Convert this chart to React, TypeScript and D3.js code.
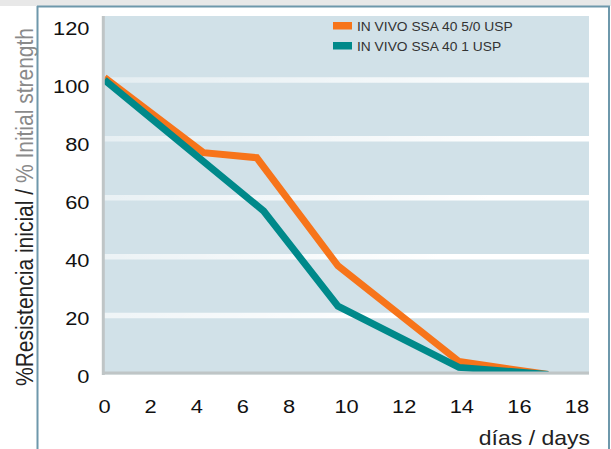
import * as d3 from 'd3';
import { useEffect, useRef } from 'react';

const seriesNames = ['IN VIVO SSA 40 5/0 USP', 'IN VIVO SSA 40 1 USP'];
const seriesColors = ['#f7741a', '#00898a'];

// days / % initial strength
const sutureDays = [0, 4.3, 6.6, 9.7, 13.9, 17];
const sutureStrength = [100.8, 75.3, 73.6, 36.9, 4.4, 0];
const usp1Days = [0, 6.9, 9.7, 13.9, 17];
const usp1Strength = [100, 55.5, 23.2, 2.4, 0];

const xTicks = [0, 2, 4, 6, 8, 10, 12, 14, 16, 18];
const yTicks = [0, 20, 40, 60, 80, 100, 120];

const W = 611;
const H = 449;
const FONT = '"Liberation Sans", Arial, sans-serif';
// the source artwork is stretched sideways, text included
const STRETCH = 1.15;

export default function App() {
  const svgRef = useRef<SVGSVGElement>(null);

  useEffect(() => {
    if (!svgRef.current) return;
    const svg = d3.select(svgRef.current);
    svg.selectAll('*').remove();

    const plot = { left: 103, right: 589, top: 16, bottom: 374.5 };

    // x axis of the original is uneven: 0-8 is tighter than 8-18
    const x = d3.scaleLinear().domain([0, 8, 18]).range([104.5, 289, 577]);
    const y = d3.scaleLinear().domain([0, 120]).range([plot.bottom, 21]);

    const defs = svg.append('defs');
    const grad = defs.append('linearGradient')
      .attr('id', 'gridFade')
      .attr('gradientUnits', 'userSpaceOnUse')
      .attr('x1', plot.left).attr('y1', plot.top)
      .attr('x2', 420).attr('y2', 280);
    grad.append('stop').attr('offset', 0).attr('stop-color', '#fff').attr('stop-opacity', 0.35);
    grad.append('stop').attr('offset', 1).attr('stop-color', '#fff').attr('stop-opacity', 1);

    defs.append('clipPath').attr('id', 'plotClip')
      .append('rect')
      .attr('x', plot.left).attr('y', plot.top)
      .attr('width', plot.right - plot.left)
      .attr('height', y(0) - 1.5 - plot.top);

    // frame
    svg.append('rect').attr('x', 0).attr('y', 0).attr('width', W).attr('height', 6).attr('fill', '#e8e8e8');

    // plot background
    svg.append('rect')
      .attr('x', plot.left).attr('y', plot.top)
      .attr('width', plot.right - plot.left)
      .attr('height', plot.bottom - plot.top)
      .attr('fill', '#d1e1e8');

    // grid
    svg.append('g')
      .selectAll('line')
      .data(yTicks.filter(v => v > 0 && v < 120))
      .join('line')
      .attr('x1', plot.left).attr('x2', plot.right)
      .attr('y1', d => y(d)).attr('y2', d => y(d))
      .attr('stroke', 'url(#gridFade)')
      .attr('stroke-width', 5.5);

    // series
    const line = d3.line<[number, number]>().x(d => x(d[0])).y(d => y(d[1]));
    const series: [number, number][][] = [
      sutureDays.map((d, i) => [d, sutureStrength[i]]),
      usp1Days.map((d, i) => [d, usp1Strength[i]]),
    ];
    svg.append('g')
      .attr('clip-path', 'url(#plotClip)')
      .selectAll('path')
      .data(series)
      .join('path')
      .attr('d', d => line(d))
      .attr('fill', 'none')
      .attr('stroke', (_, i) => seriesColors[i])
      .attr('stroke-width', 7)
      .attr('stroke-linejoin', 'miter')
      .attr('stroke-linecap', 'butt');

    // axis lines
    svg.append('line')
      .attr('x1', plot.left + 0.3).attr('x2', plot.left + 0.3)
      .attr('y1', plot.top).attr('y2', plot.bottom + 0.5)
      .attr('stroke', '#bfc5c6').attr('stroke-width', 3);
    svg.append('line')
      .attr('x1', plot.left).attr('x2', plot.right)
      .attr('y1', y(0) - 1.5).attr('y2', y(0) - 1.5)
      .attr('stroke', '#bfc5c6').attr('stroke-width', 2.8);

    const stretched = (sel: d3.Selection<SVGTextElement, any, any, any>, tx: (d: any) => number, ty: (d: any) => number) =>
      sel.attr('transform', d => `translate(${tx(d)},${ty(d)}) scale(${STRETCH},1)`);

    // y tick labels (they sit a little below their gridlines in the source)
    const yLabel = (v: number) => y(v) + 8 + (v / 120) * 6;
    svg.append('g')
      .selectAll('text')
      .data(yTicks)
      .join('text')
      .call(stretched, () => 89.5, d => yLabel(d))
      .attr('text-anchor', 'end')
      .style('font-family', FONT)
      .style('font-size', '19px')
      .style('fill', '#111')
      .text(d => String(d));

    // x tick labels
    svg.append('g')
      .selectAll('text')
      .data(xTicks)
      .join('text')
      .call(stretched, d => x(d), () => 413)
      .attr('text-anchor', 'middle')
      .style('font-family', FONT)
      .style('font-size', '19px')
      .style('fill', '#111')
      .text(d => String(d));

    // x title
    svg.append('text')
      .attr('transform', `translate(590,445) scale(${STRETCH},1)`)
      .attr('text-anchor', 'end')
      .style('font-family', FONT)
      .style('font-size', '20px')
      .style('fill', '#222')
      .text('días / days');

    // y title, two tones
    const yt = svg.append('text')
      .attr('transform', `translate(32.5,207) scale(${STRETCH},1) rotate(-90)`)
      .attr('text-anchor', 'middle')
      .style('font-family', FONT)
      .style('font-size', '21px');
    yt.append('tspan').style('fill', '#222').text('%Resistencia inicial / ');
    yt.append('tspan').style('fill', '#8a8a8a').text('% Initial strength');

    // legend
    const legend = svg.append('g')
      .selectAll('g')
      .data(seriesNames)
      .join('g')
      .attr('transform', (_, i) => `translate(333,${22 + i * 20})`);
    legend.append('rect')
      .attr('width', 19).attr('height', 7.5)
      .attr('fill', (_, i) => seriesColors[i]);
    legend.append('text')
      .attr('transform', `translate(24,8.7) scale(${STRETCH},1)`)
      .style('font-family', FONT)
      .style('font-size', '12px')
      .style('fill', '#333')
      .text(d => d);

    // frame lines
    const frame = '#6e98ab';
    svg.append('line').attr('x1', 37).attr('x2', 610).attr('y1', 6.5).attr('y2', 6.5)
      .attr('stroke', frame).attr('stroke-width', 2);
    svg.append('line').attr('x1', 37.5).attr('x2', 37.5).attr('y1', 6).attr('y2', H)
      .attr('stroke', frame).attr('stroke-width', 2);
    svg.append('line').attr('x1', 609).attr('x2', 609).attr('y1', 6).attr('y2', H)
      .attr('stroke', frame).attr('stroke-width', 2);
  }, []);

  return (
    <svg
      ref={svgRef}
      width={W}
      height={H}
      style={{ position: 'absolute', left: 0, top: 0, display: 'block', background: '#fff' }}
    />
  );
}
